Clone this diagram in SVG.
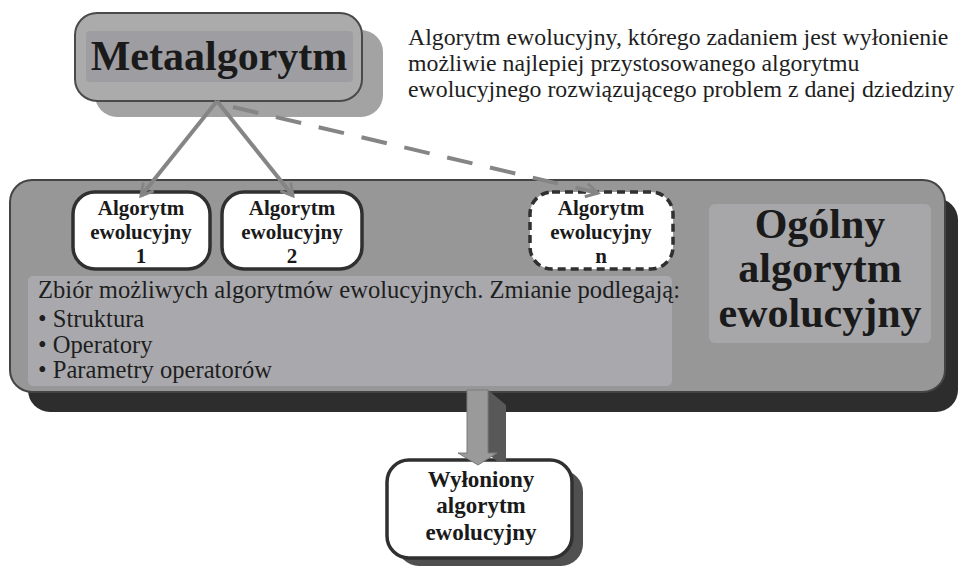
<svg xmlns="http://www.w3.org/2000/svg" width="959" height="570" viewBox="0 0 959 570">
<defs>
<style>
.b{font-family:"Liberation Serif","Times New Roman",serif;font-weight:bold;fill:#1a1a1a;text-anchor:middle}
.r{font-family:"Liberation Serif","Times New Roman",serif;fill:#1e1e1e}
.node{fill:#fff;stroke:#303030;stroke-width:3.5}
.con{stroke:#858585;stroke-width:4;fill:none}
</style>
<marker id="ah" viewBox="0 0 12 12" refX="10" refY="6" markerWidth="4" markerHeight="4" markerUnits="strokeWidth" orient="auto">
<polyline points="1,1 10,6 1,11" fill="none" stroke="#858585" stroke-width="2.2"/>
</marker>
</defs>
<rect width="959" height="570" fill="#fff"/>

<g id="main">
<rect x="28" y="198" width="930" height="214" rx="22" fill="#2d2d2d"/>
<rect x="10" y="180" width="935" height="212" rx="22" fill="#979797" stroke="#444" stroke-width="2"/>
<rect x="28" y="276" width="644" height="110" rx="5" fill="#a9a9ad"/>
<rect x="709" y="204" width="222" height="139" rx="6" fill="#a7a7aa"/>
<text class="b" font-size="42" x="820" y="238">Ogólny</text>
<text class="b" font-size="42" x="820" y="282">algorytm</text>
<text class="b" font-size="42" x="820" y="327">ewolucyjny</text>
<text class="r" font-size="24.6" x="38" y="298">Zbiór możliwych algorytmów ewolucyjnych. Zmianie podlegają:</text>
<text class="r" font-size="24.6" x="38" y="327">• Struktura</text>
<text class="r" font-size="24.6" x="38" y="353">• Operatory</text>
<text class="r" font-size="24.6" x="38" y="378">• Parametry operatorów</text>
</g>

<g id="meta">
<rect x="95" y="30" width="288" height="87" rx="22" fill="#a3a3a3"/>
<rect x="75" y="13" width="287" height="88" rx="22" fill="#ababab" stroke="#4a4a4a" stroke-width="2"/>
<rect x="86" y="31" width="267" height="51" rx="4" fill="#9e9ea2"/>
<text class="b" font-size="42" x="219" y="70">Metaalgorytm</text>
</g>

<g id="desc">
<text class="r" font-size="23.8" x="408" y="45">Algorytm ewolucyjny, którego zadaniem jest wyłonienie</text>
<text class="r" font-size="23.8" x="408" y="71">możliwie najlepiej przystosowanego algorytmu</text>
<text class="r" font-size="23.8" x="408" y="97">ewolucyjnego rozwiązującego problem z danej dziedziny</text>
</g>

<g id="alg1">
<rect class="node" x="73" y="192" width="137" height="77" rx="22"/>
<text class="b" font-size="21" x="141" y="215">Algorytm</text>
<text class="b" font-size="21" x="141" y="239">ewolucyjny</text>
<text class="b" font-size="21" x="141" y="263">1</text>
</g>

<g id="alg2">
<rect class="node" x="222" y="192" width="140" height="77" rx="22"/>
<text class="b" font-size="21" x="292" y="215">Algorytm</text>
<text class="b" font-size="21" x="292" y="239">ewolucyjny</text>
<text class="b" font-size="21" x="292" y="263">2</text>
</g>

<g id="algn">
<rect class="node" x="530" y="192" width="143" height="77" rx="22" stroke-dasharray="8 5"/>
<text class="b" font-size="21" x="601" y="215">Algorytm</text>
<text class="b" font-size="21" x="601" y="239">ewolucyjny</text>
<text class="b" font-size="21" x="601" y="263">n</text>
</g>

<g id="result">
<rect x="397" y="470" width="186" height="96" rx="22" fill="#505050"/>
<rect class="node" x="387" y="460" width="185" height="98" rx="22"/>
<text class="b" font-size="23" x="481" y="487">Wyłoniony</text>
<text class="b" font-size="23" x="481" y="513">algorytm</text>
<text class="b" font-size="23" x="481" y="540">ewolucyjny</text>
</g>

<g id="connectors">
<line class="con" x1="217" y1="101" x2="141" y2="196" marker-end="url(#ah)"/>
<line class="con" x1="217" y1="101" x2="293" y2="196" marker-end="url(#ah)"/>
<line class="con" x1="233" y1="107" x2="598" y2="193" stroke-width="5" stroke-dasharray="26 18" marker-end="url(#ah)"/>
<polygon points="488,390 506,405 506,461 497,461 488,454" fill="#585858"/>
<polygon points="467,390 488,390 488,453 497,453 478,465 458,453 467,453" fill="#9a9a9a" stroke="#7a7a7a" stroke-width="1"/>
</g>
</svg>
